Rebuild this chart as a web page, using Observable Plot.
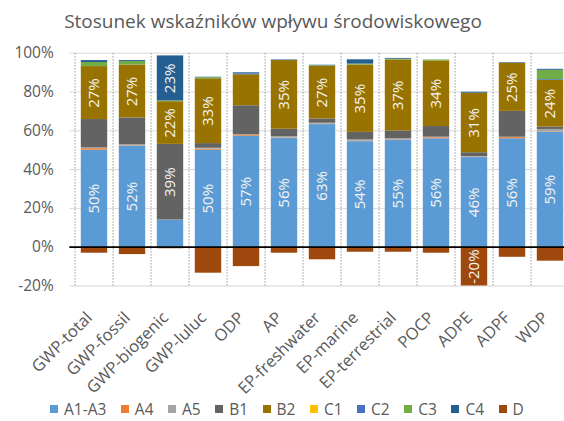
<!DOCTYPE html>
<html>
<head>
<meta charset="utf-8">
<script src="https://cdn.jsdelivr.net/npm/d3@7"></script>
<script src="https://cdn.jsdelivr.net/npm/@observablehq/plot@0.6"></script>
<style>
  html, body { margin: 0; padding: 0; background: #fff; overflow: hidden; width: 564px; height: 421px; }
  body { font-family: "Open Sans", sans-serif; color: #595959; position: relative; }
  #title { position: absolute; left: 0; top: 0; width: 546px; height: 40px; text-align: center; font-size: 19px; line-height: 42px; color: #595959; }
  #chart { position: absolute; left: 0; top: 40px; }
  #legend { position: absolute; left: 50px; top: 398px; height: 22px; display: flex; align-items: center; font-size: 15.5px; line-height: 22px; color: #595959; white-space: nowrap; }
  #legend .item { display: flex; align-items: center; margin-right: 14.5px; }
  #legend .sw { width: 8px; height: 8px; margin-right: 6px; }
</style>
</head>
<body>
<div id="title">Stosunek wskaźników wpływu środowiskowego</div>
<div id="chart"></div>
<div id="legend"></div>
<script>
const categories = ["GWP-total","GWP-fossil","GWP-biogenic","GWP-luluc","ODP","AP","EP-freshwater","EP-marine","EP-terrestrial","POCP","ADPE","ADPF","WDP"];
const seriesNames = ["A1-A3","A4","A5","B1","B2","C1","C2","C3","C4","D"];
const seriesColors = ["#5B9BD5","#ED7D31","#A5A5A5","#636363","#997300","#FFC000","#4472C4","#70AD47","#255E91","#9E480E"];

const A1_A3 = [0.50, 0.521, 0.138, 0.50, 0.572, 0.56, 0.632, 0.544, 0.552, 0.559, 0.462, 0.559, 0.593];
const A4    = [0.008, 0.002, 0.0, 0.005, 0.005, 0.002, 0.002, 0.002, 0.002, 0.005, 0.002, 0.006, 0.002];
const A5    = [0.004, 0.006, 0.002, 0.005, 0.002, 0.008, 0.005, 0.007, 0.005, 0.003, 0.003, 0.002, 0.012];
const B1    = [0.146, 0.137, 0.39, 0.024, 0.15, 0.038, 0.022, 0.039, 0.04, 0.055, 0.02, 0.133, 0.012];
const B2    = [0.273, 0.273, 0.22, 0.334, 0.16, 0.354, 0.271, 0.347, 0.366, 0.338, 0.307, 0.248, 0.241];
const C1    = [0, 0, 0, 0, 0, 0, 0, 0, 0, 0, 0, 0, 0];
const C2    = [0, 0, 0, 0, 0.004, 0, 0, 0, 0, 0, 0, 0, 0.004];
const C3    = [0.021, 0.018, 0.004, 0.006, 0, 0, 0.003, 0.005, 0.004, 0.005, 0, 0, 0.048];
const C4    = [0.01, 0.005, 0.232, 0.002, 0.006, 0.003, 0.003, 0.022, 0.004, 0, 0.005, 0.003, 0.005];
const D     = [-0.031, -0.038, -0.008, -0.134, -0.10, -0.031, -0.065, -0.026, -0.026, -0.031, -0.20, -0.052, -0.072];

const yTicks = [-0.2, 0, 0.2, 0.4, 0.6, 0.8, 1.0];

const seriesValues = [A1_A3, A4, A5, B1, B2, C1, C2, C3, C4, D];
const data = [];
seriesNames.forEach((s, i) => {
  categories.forEach((c, j) => {
    data.push({category: c, series: s, value: seriesValues[i][j]});
  });
});

const W = 580, H = 358, mL = 69.3, mR = 5, mT = 12.7, mB = 112.5;
const halfBand = (W - mL - mR) / categories.length / 2;
const font = "Open Sans, sans-serif";

const chart = Plot.plot({
  width: W,
  height: H,
  marginLeft: mL,
  marginRight: mR,
  marginTop: mT,
  marginBottom: mB,
  style: {maxWidth: "none", fontFamily: font, background: "white", overflow: "hidden"},
  x: {type: "band", domain: categories, padding: 0, axis: null},
  y: {domain: [-0.2, 1.0], axis: null},
  color: {domain: seriesNames, range: seriesColors},
  marks: [
    Plot.ruleY(yTicks, {stroke: "#D9D9D9", strokeWidth: 1}),
    Plot.ruleX(categories, {x: d => d, y1: -0.2, y2: 1.0, dx: -halfBand, stroke: "#7F7F7F", strokeWidth: 1, strokeDasharray: "1.2,1.8"}),
    Plot.barY(data, {x: "category", y: "value", z: "series", fill: "series", order: seriesNames, insetLeft: 5.8, insetRight: 5.8}),
    Plot.ruleY([0], {stroke: "#000", strokeWidth: 1.7}),
    Plot.text(data, Plot.stackY({
      x: "category", y: "value", z: "series", order: seriesNames,
      text: d => Math.abs(d.value) >= 0.2 ? Math.round(d.value * 100) + "%" : null,
      rotate: -90, fill: "#F4F4F4", fontSize: 15, fontFamily: font
    })),
    Plot.text(yTicks, {
      y: d => d, frameAnchor: "left", dx: -16, textAnchor: "end",
      text: d => Math.round(d * 100) + "%", fill: "#595959", fontSize: 15.5, fontFamily: font
    }),
    Plot.text(categories, {
      x: d => d, frameAnchor: "bottom", text: d => d, rotate: -45, textAnchor: "end",
      lineAnchor: "middle", dx: -5, dy: 29, fill: "#595959", fontSize: 16.5, fontFamily: font
    })
  ]
});
document.getElementById("chart").appendChild(chart);

const legend = document.getElementById("legend");
seriesNames.forEach((s, i) => {
  const item = document.createElement("div");
  item.className = "item";
  const sw = document.createElement("span");
  sw.className = "sw";
  sw.style.background = seriesColors[i];
  const t = document.createElement("span");
  t.textContent = s;
  item.appendChild(sw);
  item.appendChild(t);
  legend.appendChild(item);
});
</script>
</body>
</html>
